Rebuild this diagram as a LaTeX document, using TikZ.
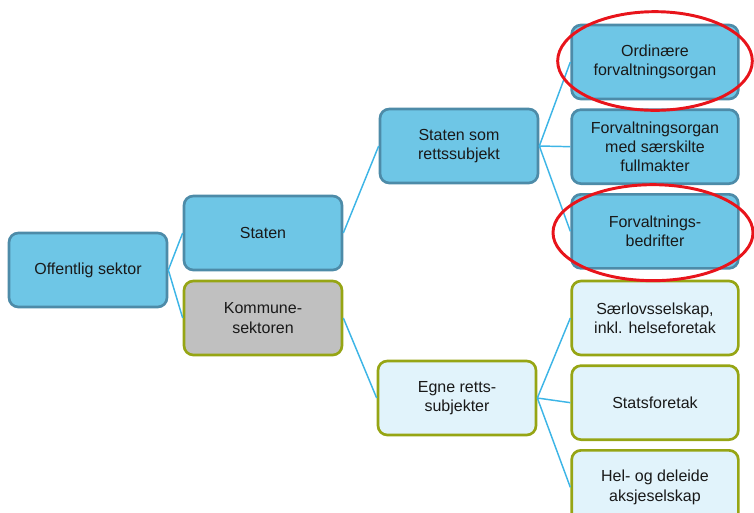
\documentclass[tikz,border=0pt]{standalone}
\usepackage{fontspec}
\setmainfont{Liberation Sans}
\usetikzlibrary{positioning}
\definecolor{boxblue}{HTML}{6EC6E6}
\definecolor{edgeblue}{HTML}{4D8BA8}
\definecolor{boxolive}{HTML}{96A514}
\definecolor{boxgrey}{HTML}{C0C0C0}
\definecolor{boxpale}{HTML}{E1F3FB}
\definecolor{linkblue}{HTML}{3DB5E6}
\definecolor{ringred}{HTML}{E8141B}

\begin{document}
\begin{tikzpicture}[x=0.75pt,y=-0.75pt,semithick,
		font=\fontsize{12}{14.5}\selectfont,text=black!90]
		  \tikzstyle{unit}=[draw,rounded corners=7pt,line width=2pt,align=center,
		    minimum width=118.5pt,minimum height=55.5pt,inner sep=2pt]
		  \tikzstyle{stat}=[unit,fill=boxblue,draw=edgeblue]
		  \tikzstyle{kommune}=[unit,fill=boxgrey,draw=boxolive]
		  \tikzstyle{egen}=[unit,fill=boxpale,draw=boxolive]
		  \tikzstyle{leaf}=[minimum width=125pt]
		  \tikzstyle{link}=[draw=linkblue,line width=1.1pt]
		  \tikzstyle{redring}=[draw=ringred,line width=2.2pt]
		
		  \useasboundingbox (0,0) rectangle (754,512);
		
		  \node[stat] (O) at (88,270) {Offentlig sektor};
		  \node[stat] (S) at (263,233) {Staten};
		  \node[kommune] (K) at (263,318) {Kommune-\\sektoren};
		  \node[stat] (SR) at (459,146) {Staten som\\rettssubjekt};
		  \node[egen] (E) at (457,398) {Egne retts-\\subjekter};
		
		  \node[stat,leaf] (S1) at (655,62) {Ordinære\\forvaltningsorgan};
		  \node[stat,leaf] (S2) [below=6pt of S1] {Forvaltningsorgan\\med særskilte\\fullmakter};
		  \node[stat,leaf] (S3) [below=6pt of S2] {Forvaltnings-\\bedrifter};
		  \node[egen,leaf] (E1) at (655,318) {Særlovsselskap,\\inkl. helseforetak};
		  \node[egen,leaf] (E2) [below=6pt of E1] {Statsforetak};
		  \node[egen,leaf] (E3) [below=6pt of E2] {Hel- og deleide\\aksjeselskap};
		
		  \path[link] (O.east) -- (S.west);
		  \path[link] (O.east) -- (K.west);
		  \path[link] (S.east) -- (SR.west);
		  \path[link] (K.east) -- (E.west);
		  \path[link] (SR.east) -- (S1.west);
		  \path[link] (SR.east) -- (S2.west);
		  \path[link] (SR.east) -- (S3.west);
		  \path[link] (E.east) -- (E1.west);
		  \path[link] (E.east) -- (E2.west);
		  \path[link] (E.east) -- (E3.west);
		
		  \draw[redring] ([yshift=0.75pt]S1.center) ellipse [x radius=73pt,y radius=37pt];
		  \draw[redring] ([xshift=-1.5pt,yshift=-1pt]S3.center) ellipse [x radius=75pt,y radius=36pt];
		\end{tikzpicture}
\end{document}
